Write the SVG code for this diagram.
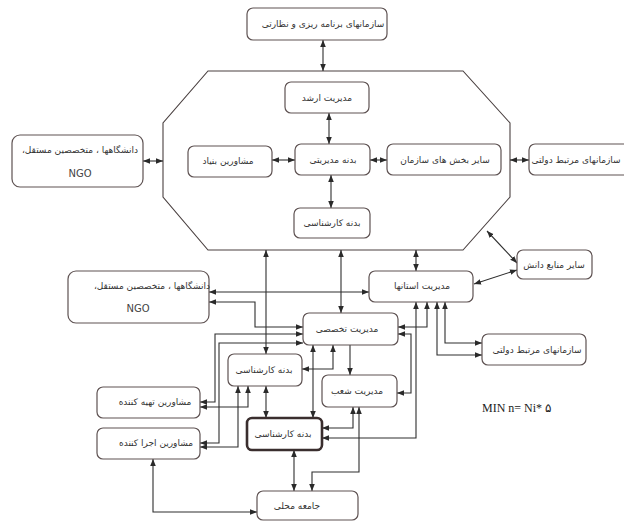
<svg xmlns="http://www.w3.org/2000/svg" width="624" height="522" viewBox="0 0 624 522">
<defs>
<marker id="a" viewBox="0 0 10 10" refX="10" refY="5" markerWidth="7" markerHeight="7" markerUnits="userSpaceOnUse" orient="auto-start-reverse"><path d="M0,1 L10,5 L0,9 z" fill="#2a2a2a"/></marker>
</defs>
<style>
.b{fill:#fff;stroke:#5e5252;stroke-width:1.2}
.bb{fill:#fff;stroke:#3a2e2e;stroke-width:2.6}
.t{font-family:"DejaVu Sans",sans-serif;font-size:9px;fill:#333;text-anchor:middle;dominant-baseline:central;direction:rtl;unicode-bidi:embed}
.e{font-family:"DejaVu Sans",sans-serif;font-size:10px;fill:#444;text-anchor:middle;dominant-baseline:central}
.c{fill:none;stroke:#2e2e2e;stroke-width:1.1}
.d{marker-start:url(#a);marker-end:url(#a)}
.s{marker-end:url(#a)}
.oct{fill:none;stroke:#4a4040;stroke-width:1.1}
</style>
<rect width="624" height="522" fill="#fff"/>
<polygon class="oct" points="208,71 463,71 510,123 510,197 463,250 208,250 163,197 163,123"/>
<g id="connectors">
<path class="c d" d="M323,40 V71"/>
<path class="c d" d="M329,113 V144"/>
<path class="c d" d="M370,160 H387"/>
<path class="c d" d="M272,160 H295"/>
<path class="c d" d="M143,161 H163"/>
<path class="c d" d="M510,160 H529"/>
<path class="c d" d="M331,175 V208"/>
<path class="c d" d="M487,231 L517,263"/>
<path class="c d" d="M517,270 L474,284"/>
<path class="c d" d="M416,250 V271"/>
<path class="c d" d="M341,250 V313"/>
<path class="c d" d="M266,250 V354"/>
<path class="c d" d="M209,292 H369"/>
<path class="c d" d="M209,302 H255 V327 H303"/>
<path class="c d" d="M303,334 H215 V402 H200"/>
<path class="c d" d="M303,343 H219 V443 H200"/>
<path class="c d" d="M200,407 H248 V386"/>
<path class="c d" d="M200,447 H238 V386"/>
<path class="c d" d="M266,386 V418"/>
<path class="c d" d="M333,345 V369 H302"/>
<path class="c d" d="M313,345 V418"/>
<path class="c s" d="M350,345 V375"/>
<path class="c d" d="M427,302 V327 H398"/>
<path class="c d" d="M445,302 V343 H482"/>
<path class="c d" d="M437,302 V355 H482"/>
<path class="c d" d="M398,334 H411 V393 H397"/>
<path class="c d" d="M416,302 V438 H322"/>
<path class="c d" d="M353,407 V428 H322"/>
<path class="c d" d="M359,407 V472 H312 V491"/>
<path class="c d" d="M294,450 V491"/>
<path class="c d" d="M153,459 V512 H257"/>
</g>
<g id="n1"><rect class="b" x="247" y="8" width="140" height="32" rx="6"/><text class="t" x="323" y="24">سازمانهای برنامه ریزی و نظارتی</text></g>
<g id="n2"><rect class="b" x="285" y="82" width="84" height="31" rx="6"/><text class="t" x="327" y="98">مدیریت ارشد</text></g>
<g id="n3"><rect class="b" x="295" y="144" width="75" height="31" rx="6"/><text class="t" x="333" y="160">بدنه مدیریتی</text></g>
<g id="n4"><rect class="b" x="387" y="144" width="114" height="31" rx="6"/><text class="t" x="445" y="160">سایر بخش های سازمان</text></g>
<g id="n5"><rect class="b" x="529" y="144" width="110" height="31" rx="6"/><text class="t" x="576" y="160">سازمانهای مرتبط دولتی</text></g>
<g id="n6"><rect class="b" x="188" y="146" width="84" height="31" rx="6"/><text class="t" x="228" y="161">مشاورین بنیاد</text></g>
<g id="n7"><rect class="b" x="12" y="135" width="131" height="52" rx="8"/><text class="t" x="80" y="150">دانشگاهها ، متخصصین مستقل،</text><text class="e" x="80" y="173">NGO</text></g>
<g id="n8"><rect class="b" x="294" y="208" width="76" height="30" rx="6"/><text class="t" x="332" y="223">بدنه کارشناسی</text></g>
<g id="n9"><rect class="b" x="517" y="250" width="75" height="29" rx="6"/><text class="t" x="554" y="265">سایر منابع دانش</text></g>
<g id="n10"><rect class="b" x="369" y="271" width="104" height="31" rx="6"/><text class="t" x="422" y="286">مدیریت استانها</text></g>
<g id="n11"><rect class="b" x="303" y="313" width="95" height="32" rx="6"/><text class="t" x="347" y="329">مدیریت تخصصی</text></g>
<g id="n12"><rect class="b" x="68" y="271" width="141" height="52" rx="8"/><text class="t" x="152" y="286">دانشگاهها ، متخصصین مستقل،</text><text class="e" x="138" y="308">NGO</text></g>
<g id="n13"><rect class="b" x="482" y="334" width="104" height="31" rx="6"/><text class="t" x="537" y="350">سازمانهای مرتبط دولتی</text></g>
<g id="n14"><rect class="b" x="228" y="354" width="74" height="32" rx="6"/><text class="t" x="264" y="370">بدنه کارشناسی</text></g>
<g id="n15"><rect class="b" x="322" y="375" width="75" height="32" rx="6"/><text class="t" x="357" y="391">مدیریت شعب</text></g>
<g id="n16"><rect class="b" x="97" y="387" width="103" height="31" rx="6"/><text class="t" x="155" y="402">مشاورین تهیه  کننده</text></g>
<g id="n17"><rect class="b" x="97" y="428" width="103" height="31" rx="6"/><text class="t" x="156" y="443">مشاورین اجرا کننده</text></g>
<g id="n18"><rect class="bb" x="247" y="418" width="75" height="32" rx="5"/><text class="t" x="283" y="434">بدنه کارشناسی</text></g>
<g id="n19"><rect class="b" x="257" y="491" width="101" height="29" rx="6"/><text class="t" x="297" y="506">جامعه محلی</text></g>
<text x="482" y="412" style="font-family:'Liberation Serif',serif;font-size:12px;fill:#222">MIN n= Ni* ۵</text>
</svg>
